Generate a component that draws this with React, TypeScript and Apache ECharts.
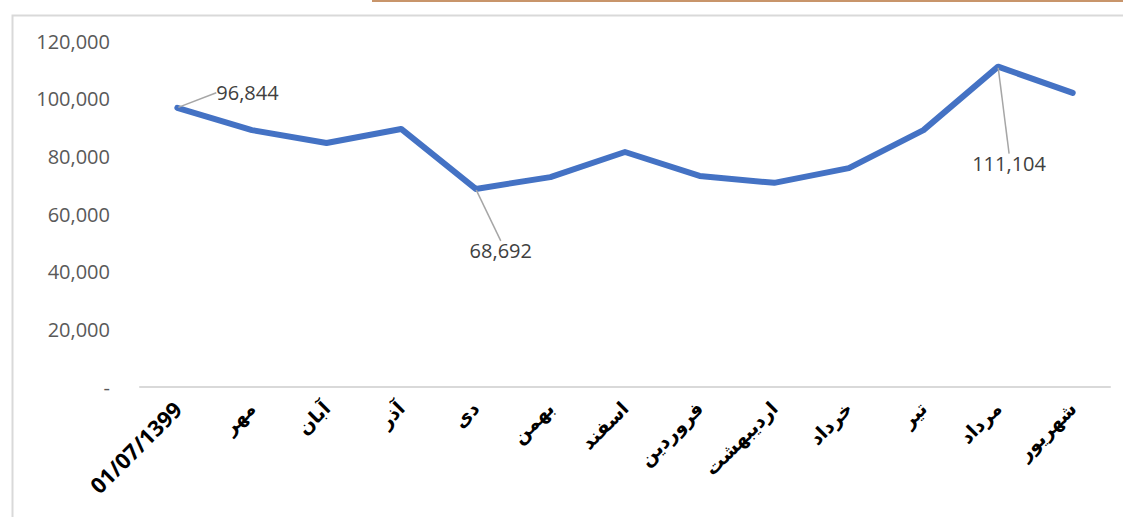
import React, { useEffect, useRef } from "react";
import * as echarts from "echarts";

const categories = [
  "01/07/1399",
  "مهر",
  "آبان",
  "آذر",
  "دی",
  "بهمن",
  "اسفند",
  "فروردین",
  "اردیبهشت",
  "خرداد",
  "تیر",
  "مرداد",
  "شهریور",
];

const values = [96844, 89100, 84600, 89500, 68692, 72800, 81500, 73200, 70800, 75900, 89100, 111104, 102000];

// which points carry a data label, and how far the label sits from its point
const labelledIndexes = [0, 4, 11];
const labelOffsets: Record<number, { dx: number; dy: number }> = {
  0: { dx: 33, dy: -15 },
  4: { dx: 25, dy: 46 },
  11: { dx: 11, dy: 81 },
};
const labelPositions: Record<number, string> = { 0: "right", 4: "bottom", 11: "bottom" };

const yTicks = { min: 0, max: 120000, interval: 20000 };

const fmt = (v: number) => (v === 0 ? "-" : v.toLocaleString("en-US"));

export default function App() {
  const ref = useRef<HTMLDivElement>(null);

  useEffect(() => {
    document.body.style.margin = "0";
    const chart = echarts.init(ref.current!, null, { renderer: "svg" });
    const data = values.map((v, i) =>
      labelledIndexes.includes(i)
        ? {
            value: v,
            label: {
              show: true,
              position: labelPositions[i],
              distance: 5,
              formatter: (p: any) => fmt(p.value),
              fontFamily: "Open Sans",
              fontSize: 20,
              color: "#404040",
            },
            labelLine: { show: true, lineStyle: { color: "#a6a6a6", width: 1.5 } },
          }
        : v
    );
    chart.setOption({
      animation: false,
      backgroundColor: "#ffffff",
      grid: { left: 140, right: 13, top: 41, bottom: 130, containLabel: false },
      xAxis: {
        type: "category",
        data: categories,
        boundaryGap: true,
        axisLine: { show: true, lineStyle: { color: "#d9d9d9", width: 2 } },
        axisTick: { show: false },
        axisLabel: {
          rotate: 45,
          interval: 0,
          margin: 18,
          color: "#000000",
          fontWeight: "bold",
          fontFamily: "Open Sans, DejaVu Sans",
          fontSize: 19,
          formatter: (v: string, i: number) => (i === 0 ? `{d|${v}}` : v),
          rich: {
            d: {
              fontSize: 22,
              fontWeight: "bold",
              fontFamily: "Open Sans",
              color: "#000000",
            },
          },
        },
      },
      yAxis: {
        type: "value",
        min: yTicks.min,
        max: yTicks.max,
        interval: yTicks.interval,
        axisLine: { show: false },
        axisTick: { show: false },
        splitLine: { show: false },
        axisLabel: {
          formatter: (v: number) => fmt(v),
          color: "#595959",
          fontFamily: "Open Sans",
          fontSize: 20,
          margin: 30,
        },
      },
      series: [
        {
          type: "line",
          data,
          symbol: "circle",
          symbolSize: 2,
          showSymbol: true,
          lineStyle: { color: "#4472C4", width: 6, cap: "round", join: "round" },
          itemStyle: { color: "#4472C4" },
          labelLayout: (params: any) => {
            const o = labelOffsets[params.dataIndex];
            return o ? { dx: o.dx, dy: o.dy } : {};
          },
        },
      ],
      graphic: [
        {
          type: "rect",
          left: 10,
          top: 13,
          shape: { width: 1200, height: 600 },
          style: { fill: "none", stroke: "#d9d9d9", lineWidth: 2 },
          silent: true,
          z: -1,
        },
        {
          type: "rect",
          left: 372,
          top: 0,
          shape: { width: 800, height: 2 },
          style: { fill: "#c8956b" },
          silent: true,
        },
      ],
    });
    return () => chart.dispose();
  }, []);

  return <div ref={ref} style={{ position: "absolute", left: 0, top: 0, width: 1123, height: 517 }} />;
}
